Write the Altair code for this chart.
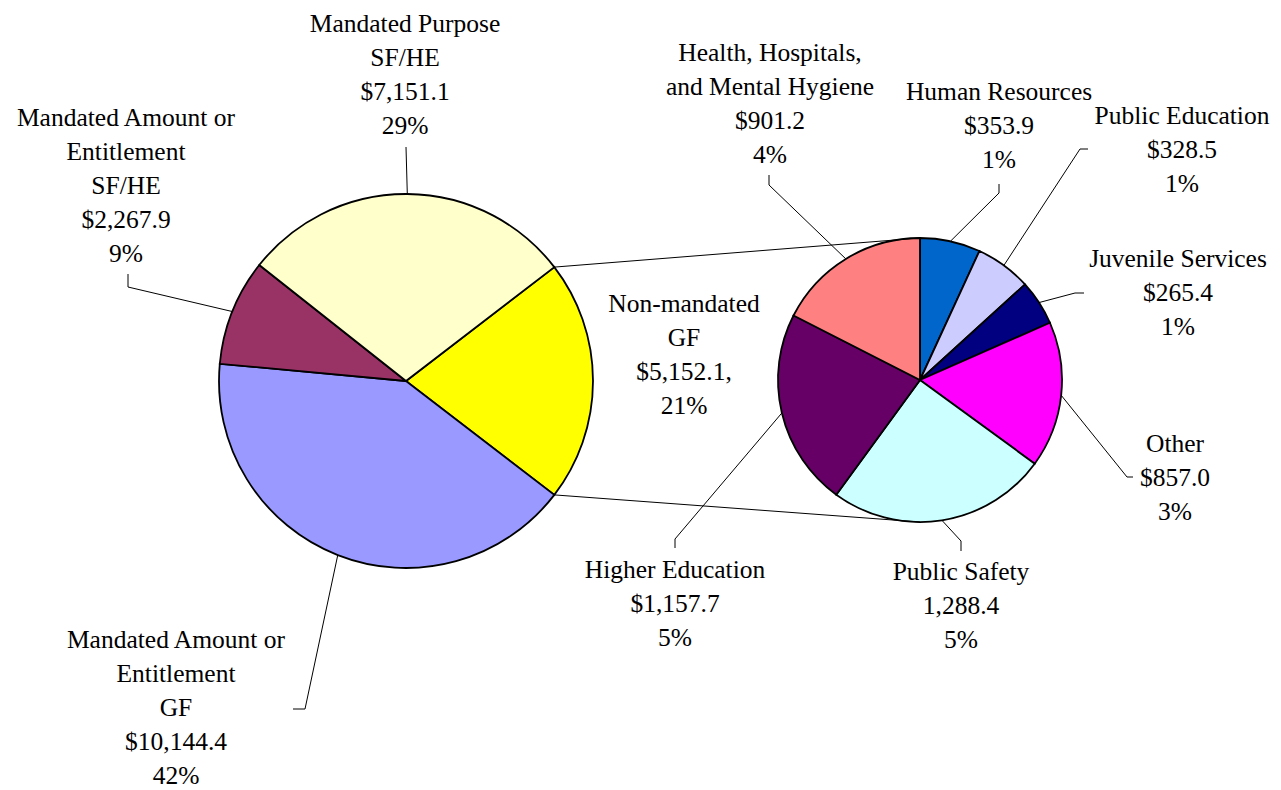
import math
import altair as alt
import pandas as pd

# ---------------- data ----------------
main_cats = ["Non-mandated GF", "Mandated Amount or Entitlement GF",
             "Mandated Amount or Entitlement SF/HE", "Mandated Purpose SF/HE"]
main_vals = [5152.1, 10144.4, 2267.9, 7151.1]
main_labels = ["Non-mandated\nGF\n$5,152.1,\n21%",
               "Mandated Amount or\nEntitlement\nGF\n$10,144.4\n42%",
               "Mandated Amount or\nEntitlement\nSF/HE\n$2,267.9\n9%",
               "Mandated Purpose\nSF/HE\n$7,151.1\n29%"]

sub_cats = ["Human Resources", "Public Education", "Juvenile Services", "Other",
            "Public Safety", "Higher Education", "Health, Hospitals, and Mental Hygiene"]
sub_vals = [353.9, 328.5, 265.4, 857.0, 1288.4, 1157.7, 901.2]
sub_labels = ["Human Resources\n$353.9\n1%",
              "Public Education\n$328.5\n1%",
              "Juvenile Services\n$265.4\n1%",
              "Other\n$857.0\n3%",
              "Public Safety\n1,288.4\n5%",
              "Higher Education\n$1,157.7\n5%",
              "Health, Hospitals,\nand Mental Hygiene\n$901.2\n4%"]

# ---------------- styles / layout ----------------
main_colors = ["#FFFF00", "#9999FF", "#993366", "#FFFFCC"]
sub_colors = ["#0066CC", "#CCCCFF", "#000080", "#FF00FF", "#CCFFFF", "#660066", "#FF8080"]

M, PT = 8, 10                    # page margin, top padding
W, H = 1265, 772                 # plot size
OX, OY = M, M + PT               # image-pixel origin of the plot area
MAIN_C, R1 = (406, 381), 187     # image-pixel centre / radius of main pie
SUB_C, R2 = (920, 380), 142      # image-pixel centre / radius of second pie
FONT, FS, LH = "Liberation Serif", 25.5, 34

# label anchor (centre x, first baseline y) and leader knee points, image pixels
main_label_pos = [(684, 312), (176, 648), (126, 126), (405, 32)]
main_knees = [None, [(293, 709), (305, 709)], [(128, 274), (128, 287)], [(406, 147)]]
sub_label_pos = [(999, 100), (1182, 124), (1178, 267), (1175, 452),
                 (961, 580), (675, 578), (770, 61)]
sub_knees = [[(999, 184), (999, 193)], [(1088, 149), (1080, 149)],
             [(1084, 293), (1075, 293)], [(1133, 477), (1127, 477)],
             [(961, 551), (961, 541)], [(675, 548), (675, 539)],
             [(769, 175), (769, 185)]]


def spans(vals, start_deg):
    tot = sum(vals)
    out, a = [], start_deg
    for v in vals:
        s = v / tot * 360.0
        out.append((a, a + s))
        a += s
    return out


def edge(c, r, deg):
    t = math.radians(deg)
    return (c[0] + r * math.sin(t), c[1] - r * math.cos(t))


main_start = 90.0 - main_vals[0] / sum(main_vals) * 180.0
sub_start = 0.0
main_sp = spans(main_vals, main_start)
sub_sp = spans(sub_vals, sub_start)

xs = alt.Scale(domain=[OX, OX + W], range=[0, W])
ys = alt.Scale(domain=[OY + H, OY])

# ---------------- pies ----------------
main_df = pd.DataFrame({"cat": main_cats, "value": main_vals,
                        "ord": list(range(len(main_cats)))})
sub_df = pd.DataFrame({"cat": sub_cats, "value": sub_vals,
                       "ord": list(range(len(sub_cats)))})


def pie(df, cats, colors, center, r, start):
    a0 = math.radians(start)
    return alt.Chart(df).mark_arc(radius=r, stroke="black", strokeWidth=1.8).encode(
        theta=alt.Theta("value:Q", stack=True,
                        scale=alt.Scale(range=[a0, a0 + 2 * math.pi])),
        color=alt.Color("cat:N", scale=alt.Scale(domain=cats, range=colors), legend=None),
        order=alt.Order("ord:Q"),
        x=alt.value(center[0] - OX),
        y=alt.value(center[1] - OY),
    )


main_pie = pie(main_df, main_cats, main_colors, MAIN_C, R1, main_start)
sub_pie = pie(sub_df, sub_cats, sub_colors, SUB_C, R2, sub_start)

# ---------------- leader & connector lines ----------------
rows = []
seg = 0
for knees, sp, c, r in [(main_knees, main_sp, MAIN_C, R1), (sub_knees, sub_sp, SUB_C, R2)]:
    for k, (a, b) in zip(knees, sp):
        if not k:
            continue
        pts = list(k) + [edge(c, r, (a + b) / 2)]
        for i, (px, py) in enumerate(pts):
            rows.append({"seg": seg, "i": i, "x": px, "y": py})
        seg += 1

# connectors: edges of the aggregated slice -> top / bottom of second pie
p_top = edge(MAIN_C, R1, main_sp[0][0])
p_bot = edge(MAIN_C, R1, main_sp[0][1])
for pa, pb in [(p_top, (SUB_C[0], SUB_C[1] - R2)), (p_bot, (SUB_C[0], SUB_C[1] + R2))]:
    rows.append({"seg": seg, "i": 0, "x": pa[0], "y": pa[1]})
    rows.append({"seg": seg, "i": 1, "x": pb[0], "y": pb[1]})
    seg += 1

lines_df = pd.DataFrame(rows)
lines = alt.Chart(lines_df).mark_line(color="black", strokeWidth=1).encode(
    x=alt.X("x:Q", scale=xs, axis=None),
    y=alt.Y("y:Q", scale=ys, axis=None),
    detail="seg:N",
    order="i:Q",
)

# ---------------- labels ----------------
lab_df = pd.DataFrame({
    "text": main_labels + sub_labels,
    "x": [p[0] for p in main_label_pos + sub_label_pos],
    "y": [p[1] for p in main_label_pos + sub_label_pos],
})
labels = alt.Chart(lab_df).mark_text(
    align="center", baseline="alphabetic", lineBreak="\n", lineHeight=LH,
    font=FONT, fontSize=FS, color="black"
).encode(
    x=alt.X("x:Q", scale=xs, axis=None),
    y=alt.Y("y:Q", scale=ys, axis=None),
    text="text:N",
)

chart = alt.layer(main_pie, sub_pie, lines, labels).resolve_scale(
    theta="independent", color="independent"
).properties(
    width=W, height=H,
    padding={"top": PT, "left": 0, "right": 0, "bottom": 0},
    autosize=alt.AutoSizeParams(type="none"),
    background="white",
).configure_view(stroke=None)

chart.save("out.html", embed_options={"renderer": "svg", "actions": False})
